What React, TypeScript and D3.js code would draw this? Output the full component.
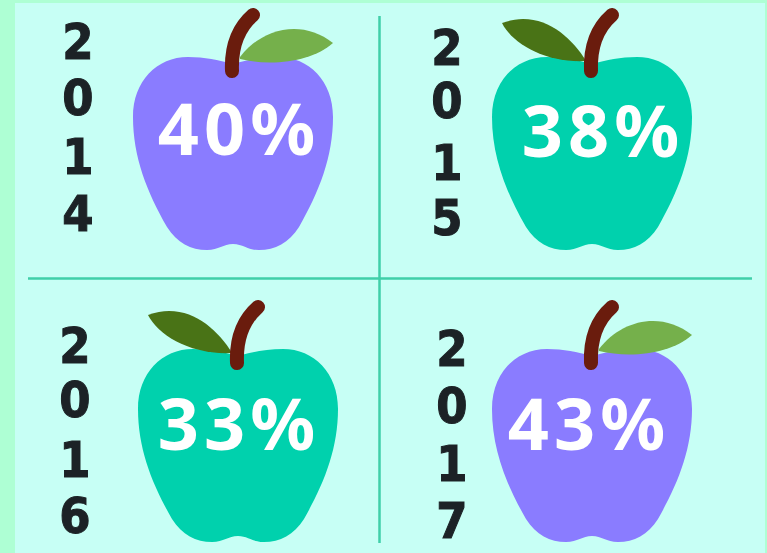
import * as d3 from "d3";

// values
const years = ["2014", "2015", "2016", "2017"];
const percents = [40, 38, 33, 43];
const appleKinds = ["purple", "green", "green", "purple"];

const width = 767;
const height = 553;

const appleColor = d3.scaleOrdinal<string, string>().domain(["purple", "green"]).range(["#8a7bff", "#00d1ad"]);
const leafColor = d3.scaleOrdinal<string, string>().domain(["purple", "green"]).range(["#74b04c", "#4a7314"]);

// where each panel puts its things (apple top left corner, label, year column)
const panels = [
  { appleX: 133, appleY: 57, textX: 239, textY: 155, yearX: 78, yearY: [59, 115, 174, 231] },
  { appleX: 492, appleY: 57, textX: 603, textY: 157, yearX: 447, yearY: [65, 118, 180, 235] },
  { appleX: 138, appleY: 349, textX: 239, textY: 450, yearX: 75, yearY: [363, 417, 477, 533] },
  { appleX: 492, appleY: 349, textX: 589, textY: 450, yearX: 452, yearY: [366, 423, 481, 538] },
];

// apple outline in a 200 x 193 box
const applePath = () => {
  const p = d3.path();
  p.moveTo(100, 7);
  p.bezierCurveTo(85, 3, 72, 0, 55, 0);
  p.bezierCurveTo(24, 0, 0, 24, 0, 60);
  p.bezierCurveTo(0, 100, 14, 135, 34, 170);
  p.bezierCurveTo(44, 186, 58, 193, 74, 193);
  p.bezierCurveTo(86, 193, 90, 187, 100, 187);
  p.bezierCurveTo(110, 187, 114, 193, 126, 193);
  p.bezierCurveTo(142, 193, 156, 186, 166, 170);
  p.bezierCurveTo(186, 135, 200, 100, 200, 60);
  p.bezierCurveTo(200, 24, 176, 0, 145, 0);
  p.bezierCurveTo(128, 0, 115, 3, 100, 7);
  p.closePath();
  return p.toString();
};

const stemPath = () => {
  const p = d3.path();
  p.moveTo(99, 14);
  p.bezierCurveTo(98, -10, 104, -28, 120, -42);
  return p.toString();
};

const leafRightPath = () => {
  const p = d3.path();
  p.moveTo(107, 0);
  p.bezierCurveTo(130, -30, 170, -38, 200, -14);
  p.bezierCurveTo(180, 4, 140, 10, 107, 2);
  p.closePath();
  return p.toString();
};

const leafLeftPath = () => {
  const p = d3.path();
  p.moveTo(94, 4);
  p.bezierCurveTo(78, -22, 48, -48, 10, -34);
  p.bezierCurveTo(20, -14, 52, 6, 94, 4);
  p.closePath();
  return p.toString();
};

export default function App() {
  return (
    <svg
      width={width}
      height={height}
      style={{ position: "absolute", left: 0, top: 0, display: "block" }}
    >
      <defs>
        <filter id="soft" x="0" y="0" width="100%" height="100%">
          <feGaussianBlur stdDeviation={0.6} />
        </filter>
      </defs>
      <g filter="url(#soft)">
        <rect width={width} height={height} fill="#aeffd4" />
        <rect x={15} y={3} width={750} height={550} fill="#c7fff5" />
        <line x1={379.5} x2={379.5} y1={16} y2={543} stroke="#3fcfa8" strokeWidth={2.5} />
        <line x1={28} x2={752} y1={278.5} y2={278.5} stroke="#3fcfa8" strokeWidth={2.5} />
        {years.map((year, i) => {
          const panel = panels[i];
          const kind = appleKinds[i];
          return (
            <g key={year}>
              <g transform={`translate(${panel.appleX},${panel.appleY})`}>
                <path d={applePath()} fill={appleColor(kind)} />
                <path d={kind === "purple" ? leafRightPath() : leafLeftPath()} fill={leafColor(kind)} />
                <path d={stemPath()} fill="none" stroke="#6b1a10" strokeWidth={14} strokeLinecap="round" />
              </g>
              <text
                x={panel.textX}
                y={panel.textY}
                textAnchor="middle"
                fontFamily="'Noto Sans', sans-serif"
                fontWeight={700}
                fontSize={72}
                letterSpacing={5}
                fill="#ffffff"
              >
                {percents[i]}%
              </text>
              <text
                textAnchor="middle"
                fontFamily="'DejaVu Sans Condensed', 'DejaVu Sans', sans-serif"
                fontStretch="condensed"
                fontWeight={700}
                fontSize={50}
                fill="#1c2326"
                stroke="#1c2326"
                strokeWidth={1}
              >
                {year.split("").map((digit, j) => (
                  <tspan key={j} x={panel.yearX} y={panel.yearY[j]}>
                    {digit}
                  </tspan>
                ))}
              </text>
            </g>
          );
        })}
      </g>
    </svg>
  );
}
